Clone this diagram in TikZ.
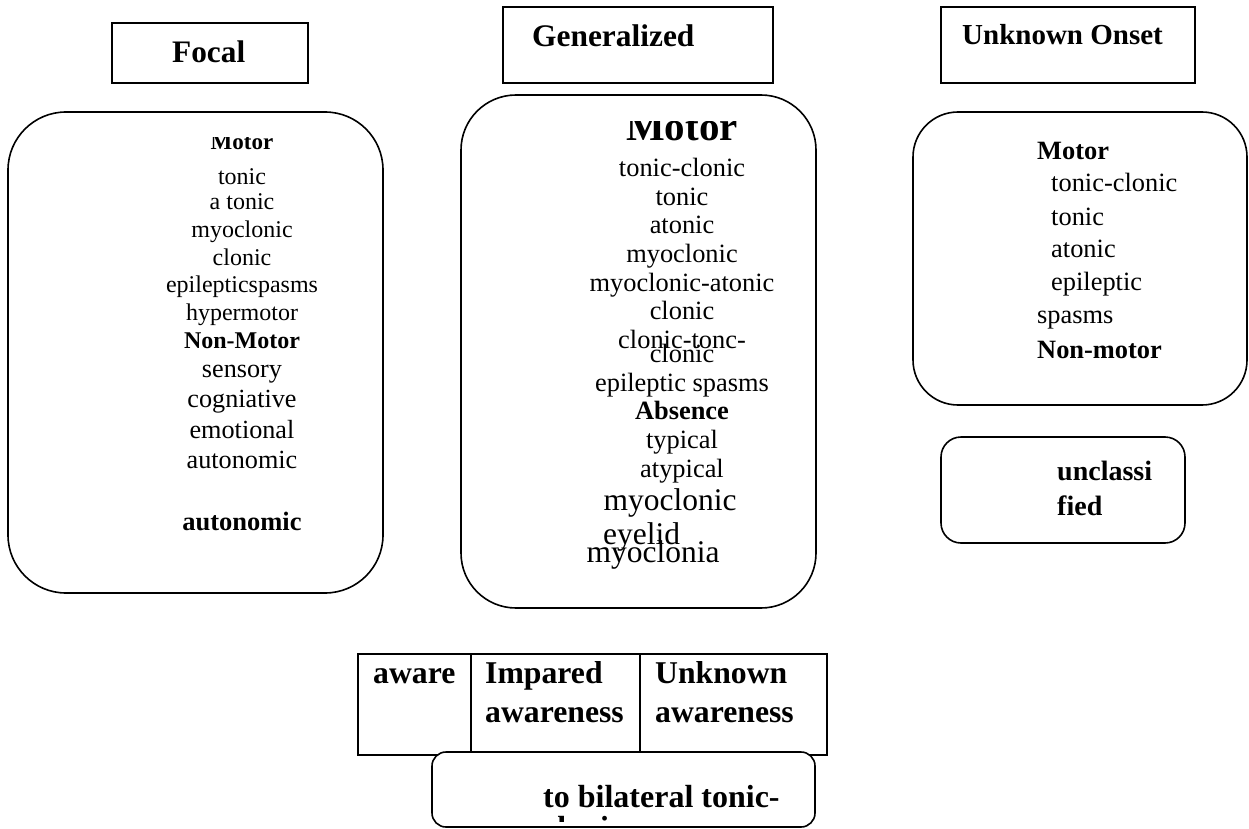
\documentclass[tikz,border=0pt]{standalone}
\usepackage{fontspec}
\setmainfont{Liberation Serif}
\newcommand\setfs[1]{\fontsize{#1pt}{#1pt}\selectfont}
\tikzset{
  sqbox/.style={draw, line width=1.6pt, inner sep=0pt, fill=white},
  rbox/.style={sqbox, rounded corners=#1},
  ctxt/.style={inner sep=0pt, anchor=base},
  ltxt/.style={inner sep=0pt, anchor=base west},
}
\begin{document}
\begin{tikzpicture}[x=1pt, y=-1pt]
\useasboundingbox (0,0) rectangle (1249,829);

% header boxes
\node[sqbox, minimum width=196pt, minimum height=60pt] (focal) at (210,53) {};
\node[sqbox, minimum width=270pt, minimum height=76pt] (gen) at (638,45) {};
\node[sqbox, minimum width=254pt, minimum height=76pt] (unk) at (1068,45) {};
\node[ltxt, font={\setfs{31.3}\bfseries}] (focalT) at (172,63) {Focal};
\node[ltxt, font={\setfs{31.4}\bfseries}] (genT) at (532,47) {Generalized};
\node[ltxt, font={\setfs{29}\bfseries}] (unkT) at (962,45) {Unknown Onset};

% rounded category boxes
\node[rbox=58pt, minimum width=375pt, minimum height=481pt] (left) at (195.5,352.5) {};
\node[rbox=55pt, minimum width=355pt, minimum height=513pt] (mid) at (638.5,351.5) {};
\node[rbox=45pt, minimum width=334pt, minimum height=293pt] (right) at (1080,258.5) {};
\node[rbox=20pt, minimum width=244pt, minimum height=106pt] (uncl) at (1063,490) {};

% focal list
\begin{scope}
  \clip (100,138) rectangle (380,160);
  \node[ctxt, font={\setfs{23}\bfseries}] (fMotor) at (242,150) {Motor};
\end{scope}
\node[ctxt, font=\setfs{24}] (f1) at (242,185) {tonic};
\node[ctxt, font=\setfs{24}] (f2) at (242,209) {a tonic};
\node[ctxt, font=\setfs{24}] (f3) at (242,237) {myoclonic};
\node[ctxt, font=\setfs{24}] (f4) at (242,265) {clonic};
\node[ctxt, font=\setfs{24}] (f5) at (242,292) {epilepticspasms};
\node[ctxt, font=\setfs{24}] (f6) at (242,320) {hypermotor};
\node[ctxt, font={\setfs{24}\bfseries}] (f7) at (242,348) {Non-Motor};
\node[ctxt, font=\setfs{26.2}] (f8) at (242,377) {sensory};
\node[ctxt, font=\setfs{26.2}] (f9) at (242,407) {cogniative};
\node[ctxt, font=\setfs{26.2}] (f10) at (242,438) {emotional};
\node[ctxt, font=\setfs{26.2}] (f11) at (242,468) {autonomic};
\node[ctxt, font={\setfs{26.5}\bfseries}] (f12) at (242,530) {autonomic};

% generalized list
\begin{scope}
  \clip (480,122) rectangle (800,150);
  \node[ctxt, font={\setfs{41}\bfseries}] (gMotor) at (682,141) {Motor};
\end{scope}
\node[ctxt, font=\setfs{26.4}] (g1) at (682,176) {tonic-clonic};
\node[ctxt, font=\setfs{26.4}] (g2) at (682,205) {tonic};
\node[ctxt, font=\setfs{26.4}] (g3) at (682,233) {atonic};
\node[ctxt, font=\setfs{26.4}] (g4) at (682,262) {myoclonic};
\node[ctxt, font=\setfs{26.4}] (g5) at (682,291) {myoclonic-atonic};
\node[ctxt, font=\setfs{26.4}] (g6) at (682,319) {clonic};
\node[ctxt, font=\setfs{26.4}] (g7) at (682,348) {clonic-tonc-};
\node[ctxt, font=\setfs{26.4}] (g8) at (682,362) {clonic};
\node[ctxt, font=\setfs{26.4}] (g9) at (682,391) {epileptic spasms};
\node[ctxt, font={\setfs{26.4}\bfseries}] (g10) at (682,419) {Absence};
\node[ctxt, font=\setfs{26.4}] (g11) at (682,448) {typical};
\node[ctxt, font=\setfs{26.4}] (g12) at (682,477) {atypical};
\node[ctxt, font=\setfs{31.5}] (g13) at (670,510) {myoclonic};
\node[ltxt, font=\setfs{31.5}] (g14) at (603,544) {eyelid};
\node[ctxt, font=\setfs{31.5}] (g15) at (653,562) {myoclonia};

% unknown onset list
\node[ltxt, font={\setfs{26.4}\bfseries}] (u1) at (1037,160) {Motor};
\node[ltxt, font=\setfs{26.4}] (u2) at (1051,192) {tonic-clonic};
\node[ltxt, font=\setfs{26.4}] (u3) at (1051,225) {tonic};
\node[ltxt, font=\setfs{26.4}] (u4) at (1051,257) {atonic};
\node[ltxt, font=\setfs{26.4}] (u5) at (1051,290) {epileptic};
\node[ltxt, font=\setfs{26.4}] (u6) at (1037,323) {spasms};
\node[ltxt, font={\setfs{26.4}\bfseries}] (u7) at (1037,358) {Non-motor};

% unclassified
\node[ltxt, font={\setfs{28}\bfseries}] (uc1) at (1057,480) {unclassi};
\node[ltxt, font={\setfs{28}\bfseries}] (uc2) at (1057,515) {fied};

% awareness table
\node[sqbox, minimum width=113pt, minimum height=101pt] (c1) at (414.5,704.5) {};
\node[sqbox, minimum width=169pt, minimum height=101pt] (c2) at (555.5,704.5) {};
\node[sqbox, minimum width=187pt, minimum height=101pt] (c3) at (733.5,704.5) {};
\node[ltxt, font={\setfs{31.7}\bfseries}] (t1) at (373,683) {aware};
\node[ltxt, font={\setfs{31.7}\bfseries}] (t2) at (485,683) {Impared};
\node[ltxt, font={\setfs{31.7}\bfseries}] (t3) at (485,722) {awareness};
\node[ltxt, font={\setfs{31.7}\bfseries}] (t4) at (655,683) {Unknown};
\node[ltxt, font={\setfs{31.7}\bfseries}] (t5) at (655,722) {awareness};

% bilateral box
\node[rbox=14pt, minimum width=383pt, minimum height=75pt] (bil) at (623.5,789.5) {};
\node[ltxt, font={\setfs{32}\bfseries}] (b1) at (543,807) {to bilateral tonic-};
\begin{scope}
  \clip (440,812) rectangle (810,821);
  \node[ltxt, font={\setfs{32}\bfseries}] (b2) at (543,838) {clonic};
\end{scope}
\end{tikzpicture}
\end{document}
